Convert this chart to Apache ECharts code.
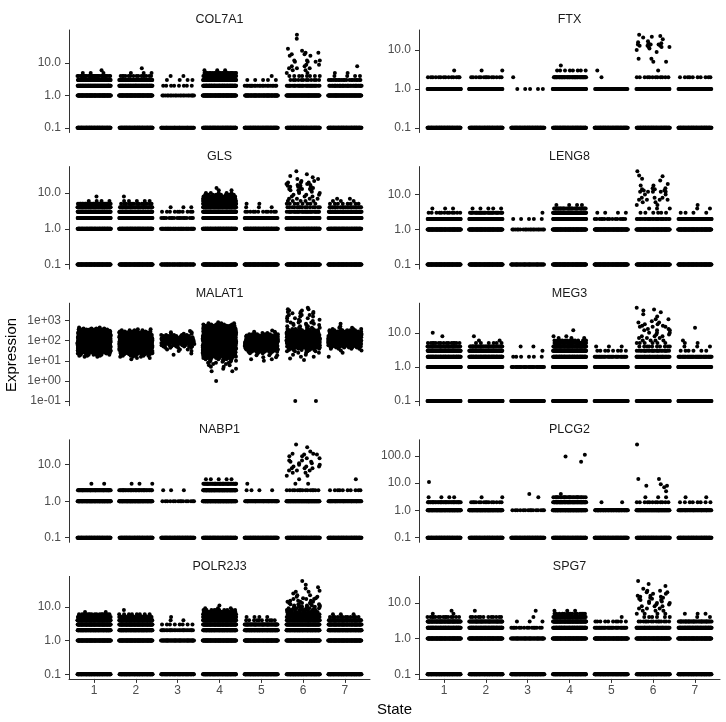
<!DOCTYPE html>
<html>
<head>
<meta charset="utf-8">
<script src="https://cdn.jsdelivr.net/npm/echarts@6/dist/echarts.min.js"></script>
<style>
html,body{margin:0;padding:0;background:#fff;}
#chart{width:726px;height:722px;}
</style>
</head>
<body>
<div id="chart"></div>
<script>
// ---------------- DATA ----------------
const genes = ['COL7A1','FTX','GLS','LENG8','MALAT1','MEG3','NABP1','PLCG2','POLR2J3','SPG7'];
const states = [1,2,3,4,5,6,7];
const stateLabels = ['1','2','3','4','5','6','7'];
// y tick values per gene (same order as genes)
const yTickValues = [
  [0.1,1,10],[0.1,1,10],[0.1,1,10],[0.1,1,10],
  [0.1,1,10,100,1000],
  [0.1,1,10],[0.1,1,10],[0.1,1,10,100],[0.1,1,10],[0.1,1,10]
];
// Each gene: one list per state of [expression value, number of cells]
const COL7A1 = [
 [[0.1,100],[1,100],[2,90],[3,70],[4,30],[5,3],[6,1]],
 [[0.1,100],[1,100],[2,90],[3,60],[4,15],[5,3],[7,1]],
 [[0.1,60],[1,22],[2,8],[3,4],[4,2]],
 [[0.1,100],[1,100],[2,100],[3,100],[4,60],[5,25],[6,3]],
 [[0.1,100],[1,80],[2,22],[3,5],[4,1]],
 [[0.1,100],[1,90],[2,30],[3,12],[4,8],[5,2],[6,2],[7,3],[8,2],[9,2],[11,3],[12,3],[17,2],[19,2],[21,2],[24,1],[28,1],[57,1],[76,1]],
 [[0.1,100],[1,90],[2,40],[3,20],[4,4],[5,2],[8,1]]
];
const FTX = [
 [[0.1,100],[1,100],[2,14],[3,1]],
 [[0.1,100],[1,100],[2,14],[3,2]],
 [[0.1,100],[1,5],[2,1]],
 [[0.1,100],[1,100],[2,50],[3,8],[4,1]],
 [[0.1,100],[1,40],[2,1],[3,1]],
 [[0.1,100],[1,70],[2,12],[3,1],[5,2],[6,2],[9,1],[10,1],[11,1],[12,3],[13,3],[14,3],[15,2],[16,1],[17,1],[19,1],[21,1],[22,1],[23,1],[25,1]],
 [[0.1,100],[1,60],[2,10]]
];
const GLS = [
 [[0.1,100],[1,100],[2,100],[3,90],[4,60],[5,30],[6,4],[8,1]],
 [[0.1,100],[1,100],[2,100],[3,80],[4,40],[5,15],[6,5],[8,1]],
 [[0.1,70],[1,50],[2,18],[3,10],[4,3]],
 [[0.1,100],[1,100],[2,100],[3,100],[4,100],[5,100],[6,60],[7,40],[8,20],[9,10],[10,5],[12,2],[14,1]],
 [[0.1,100],[1,100],[2,60],[3,12],[4,3],[5,2]],
 [[0.1,100],[1,100],[2,80],[3,30],[4,15],[5,8],[6,5],[7,4],[8,3],[9,3],[10,2],[11,2],[12,3],[13,3],[14,2],[15,3],[16,2],[17,2],[18,2],[20,3],[22,2],[25,2],[28,1],[30,1],[34,1],[41,1]],
 [[0.1,100],[1,100],[2,90],[3,60],[4,20],[5,8],[6,3],[7,2]]
];
const LENG8 = [
 [[0.1,100],[1,100],[2,90],[3,12],[4,3]],
 [[0.1,100],[1,100],[2,90],[3,30],[4,5]],
 [[0.1,60],[1,20],[2,5],[3,1]],
 [[0.1,100],[1,100],[2,100],[3,80],[4,30],[5,4]],
 [[0.1,100],[1,100],[2,15],[3,4]],
 [[0.1,100],[1,100],[2,25],[3,6],[4,3],[5,2],[6,2],[7,4],[8,3],[10,2],[12,5],[13,2],[14,2],[15,2],[18,2],[20,1],[25,1],[28,1],[33,1],[35,1],[46,1]],
 [[0.1,100],[1,100],[2,70],[3,4],[4,2],[5,1]]
];
const MALAT1 = [
 [[16,2],[18,3],[20,6],[23,10],[26,15],[30,22],[34,26],[39,28],[44,30],[50,30],[57,30],[65,30],[74,30],[84,30],[96,30],[110,30],[125,30],[142,30],[162,28],[185,26],[210,24],[240,20],[275,16],[315,12],[360,8],[410,4],[460,2]],
 [[12,1],[14,2],[16,3],[18,5],[21,8],[24,14],[27,20],[31,25],[35,28],[40,30],[46,30],[52,30],[60,30],[68,30],[78,30],[89,30],[101,28],[115,28],[131,26],[150,24],[170,20],[195,16],[222,12],[253,9],[290,6],[330,4],[370,2]],
 [[20,1],[23,1],[31,2],[37,3],[45,4],[52,6],[60,8],[68,9],[78,10],[89,10],[101,10],[115,10],[131,9],[150,8],[170,7],[195,5],[222,3],[260,2],[300,1]],
 [[1,1],[3,2],[4,2],[5,2],[6,2],[7,2],[8,3],[9,3],[10,4],[12,6],[14,10],[16,14],[18,18],[21,24],[24,28],[27,30],[31,32],[35,34],[40,34],[46,34],[52,34],[60,34],[68,34],[78,34],[89,34],[101,34],[115,34],[131,34],[150,34],[170,34],[195,32],[222,32],[253,30],[290,28],[330,26],[380,22],[430,18],[490,14],[560,10],[640,6],[730,3],[830,1]],
 [[10,1],[12,2],[15,2],[19,3],[24,4],[28,8],[32,12],[37,16],[42,20],[48,22],[55,24],[63,24],[72,24],[82,24],[94,22],[107,20],[122,18],[140,15],[160,12],[183,9],[210,6],[240,4],[280,2],[320,1]],
 [[0.1,2],[11,1],[13,1],[16,2],[20,2],[25,3],[30,4],[35,6],[40,10],[46,14],[52,18],[60,22],[68,24],[78,26],[89,28],[101,28],[115,28],[131,28],[150,26],[170,24],[195,22],[222,18],[253,14],[290,10],[330,8],[380,6],[440,4],[520,3],[600,3],[700,3],[800,3],[950,3],[1100,2],[1300,3],[1600,3],[1900,3],[2300,3],[2700,3],[3200,2],[3700,2],[4300,1]],
 [[16,1],[25,1],[33,2],[40,4],[46,6],[52,10],[60,14],[68,18],[78,22],[89,24],[101,26],[115,26],[131,26],[150,26],[170,24],[195,22],[222,18],[253,14],[290,10],[330,6],[380,4],[440,2],[520,1],[690,1]]
];
const MEG3 = [
 [[0.1,100],[1,100],[2,100],[3,100],[4,40],[5,15],[8,1],[10,1]],
 [[0.1,100],[1,100],[2,100],[3,90],[4,40],[5,6],[6,2],[8,1]],
 [[0.1,80],[1,30],[2,6],[3,1],[4,2]],
 [[0.1,100],[1,100],[2,100],[3,100],[4,80],[5,30],[6,12],[7,3],[8,2],[12,1]],
 [[0.1,100],[1,100],[2,30],[3,8],[4,3]],
 [[0.1,100],[1,100],[2,60],[3,25],[4,10],[5,6],[6,4],[7,3],[8,3],[9,2],[10,3],[12,3],[13,2],[15,3],[16,2],[18,2],[20,2],[22,1],[25,2],[30,1],[35,1],[40,1],[45,1],[48,1],[54,1]],
 [[0.1,100],[1,100],[2,50],[3,6],[4,3],[5,2],[6,1],[14,1]]
];
const NABP1 = [
 [[0.1,100],[1,100],[2,60],[3,2]],
 [[0.1,100],[1,100],[2,40],[3,3]],
 [[0.1,100],[1,15],[2,3]],
 [[0.1,100],[1,100],[2,100],[3,40],[4,5]],
 [[0.1,100],[1,60],[2,4],[3,1]],
 [[0.1,100],[1,90],[2,15],[3,2],[4,1],[5,2],[6,2],[7,3],[8,3],[9,3],[10,2],[11,2],[12,2],[13,2],[15,2],[17,2],[19,2],[20,2],[23,1],[30,1],[36,1]],
 [[0.1,100],[1,60],[2,10],[4,1]]
];
const PLCG2 = [
 [[0.1,100],[1,100],[2,40],[3,4],[11,1]],
 [[0.1,100],[1,100],[2,15],[3,2]],
 [[0.1,100],[1,15],[3,1],[4,1]],
 [[0.1,100],[1,100],[2,80],[3,25],[4,1],[60,1],[95,1],[110,1]],
 [[0.1,100],[1,70],[2,2]],
 [[0.1,100],[1,90],[2,12],[3,3],[5,1],[7,1],[8,2],[9,1],[14,2],[260,1]],
 [[0.1,100],[1,60],[2,8],[3,2]]
];
const POLR2J3 = [
 [[0.1,100],[1,100],[2,100],[3,100],[4,100],[5,50],[6,15],[7,2]],
 [[0.1,100],[1,100],[2,100],[3,100],[4,80],[5,30],[6,8],[8,1]],
 [[0.1,80],[1,60],[2,25],[3,8],[4,2],[5,1]],
 [[0.1,100],[1,100],[2,100],[3,100],[4,100],[5,100],[6,60],[7,25],[8,10],[9,3],[11,1]],
 [[0.1,100],[1,100],[2,100],[3,60],[4,10],[5,4]],
 [[0.1,100],[1,100],[2,100],[3,90],[4,50],[5,30],[6,20],[7,15],[8,10],[9,8],[10,6],[11,5],[12,4],[13,3],[14,3],[15,3],[17,3],[18,2],[20,2],[22,2],[25,1],[28,2],[30,1],[35,1],[38,1],[45,1],[58,1]],
 [[0.1,100],[1,100],[2,100],[3,80],[4,40],[5,12],[6,3]]
];
const SPG7 = [
 [[0.1,100],[1,100],[2,100],[3,80],[4,15],[5,2],[6,1]],
 [[0.1,100],[1,100],[2,100],[3,60],[4,12],[6,1]],
 [[0.1,100],[1,60],[2,15],[3,3],[4,1],[6,1]],
 [[0.1,100],[1,100],[2,100],[3,100],[4,50],[5,15],[6,3]],
 [[0.1,100],[1,100],[2,30],[3,10],[4,1]],
 [[0.1,100],[1,100],[2,60],[3,15],[4,6],[5,4],[6,3],[7,3],[8,3],[9,2],[10,3],[11,2],[12,2],[13,2],[14,2],[15,2],[16,2],[18,2],[20,2],[22,2],[25,1],[30,1],[34,1],[41,1]],
 [[0.1,100],[1,100],[2,100],[3,40],[4,2],[5,3]]
];
const geneData = [COL7A1, FTX, GLS, LENG8, MALAT1, MEG3, NABP1, PLCG2, POLR2J3, SPG7];

// ---------------- BUILD ----------------
function frac(x){ return x - Math.floor(x); }
// deterministic horizontal jitter (width 0.4 each side, like geom_jitter)
function expand(gd){
  const pts = [];
  gd.forEach((levels, si) => {
    const s = states[si];
    levels.forEach(([v, n], li) => {
      const seed = frac(Math.log(v + 1.7) * 3.1416 + s * 0.5698 + li * 0.1234);
      for (let i = 0; i < n; i++) {
        const u = frac(seed + i * 0.6180339887);
        pts.push([s + (u - 0.5) * 0.8, v]);
      }
    });
  });
  return pts;
}

const LEFTS = [69, 419], W = 301, TOP0 = 30, ROWSTEP = 136.6, H = 102.5;
const grids = [], xAxes = [], yAxes = [], series = [], graphics = [];
const axisCol = '#333';

genes.forEach((g, k) => {
  const col = k % 2, row = Math.floor(k / 2);
  const left = LEFTS[col], top = TOP0 + row * ROWSTEP;
  grids.push({left: left, top: top, width: W, height: H, containLabel: false});
  const isBottom = row === 4;
  xAxes.push({
    gridIndex: k, type: 'value', min: 0.4, max: 7.6,
    axisLine: {show: isBottom, lineStyle: {color: axisCol, width: 1}},
    axisTick: {show: isBottom, length: 4, lineStyle: {color: axisCol}, customValues: states},
    axisLabel: {show: isBottom, customValues: states, margin: 6, fontSize: 12, color: '#4d4d4d',
      fontFamily: 'Liberation Sans, Arial, sans-serif',
      formatter: v => stateLabels[Math.round(v) - 1]},
    splitLine: {show: false}
  });
  // y range from data (5% expansion in log space)
  let mn = Infinity, mx = -Infinity;
  geneData[k].forEach(levels => levels.forEach(([v]) => { if (v < mn) mn = v; if (v > mx) mx = v; }));
  const lmin = Math.log10(mn), lmax = Math.log10(mx), pad = 0.05 * (lmax - lmin);
  const sci = g === 'MALAT1';
  yAxes.push({
    gridIndex: k, type: 'log', logBase: 10,
    min: Math.pow(10, lmin - pad), max: Math.pow(10, lmax + pad),
    axisLine: {show: true, lineStyle: {color: axisCol, width: 1}},
    axisTick: {show: true, length: 4, lineStyle: {color: axisCol}, customValues: yTickValues[k]},
    axisLabel: {show: true, customValues: yTickValues[k], margin: 8, fontSize: 12, color: '#4d4d4d',
      fontFamily: 'Liberation Sans, Arial, sans-serif',
      formatter: v => {
        if (sci) {
          const e = Math.round(Math.log10(v));
          return '1e' + (e >= 0 ? '+' : '-') + String(Math.abs(e)).padStart(2, '0');
        }
        return Number(v).toFixed(1);
      }},
    splitLine: {show: false}
  });
  series.push({
    type: 'scatter', xAxisIndex: k, yAxisIndex: k,
    data: expand(geneData[k]),
    symbol: 'circle', symbolSize: 4,
    itemStyle: {color: '#000', opacity: 1},
    silent: true, animation: false
  });
  graphics.push({
    type: 'text', x: left + W / 2, y: top - 10,
    style: {text: g, fontSize: 12.5, fill: '#1a1a1a', fontFamily: 'Liberation Sans, Arial, sans-serif',
      textAlign: 'center', textVerticalAlign: 'middle'}
  });
});

graphics.push({
  type: 'text', x: 394.5, y: 710,
  style: {text: 'State', fontSize: 15, fill: '#000', fontFamily: 'Liberation Sans, Arial, sans-serif',
    textAlign: 'center', textVerticalAlign: 'middle'}
});
graphics.push({
  type: 'text', x: 12, y: 355, rotation: Math.PI / 2,
  style: {text: 'Expression', fontSize: 15, fill: '#000', fontFamily: 'Liberation Sans, Arial, sans-serif',
    textAlign: 'center', textVerticalAlign: 'middle'}
});

const chart = echarts.init(document.getElementById('chart'), null, {renderer: 'canvas'});
chart.setOption({
  animation: false,
  backgroundColor: '#fff',
  grid: grids, xAxis: xAxes, yAxis: yAxes, series: series,
  graphic: graphics
});
</script>
</body>
</html>
